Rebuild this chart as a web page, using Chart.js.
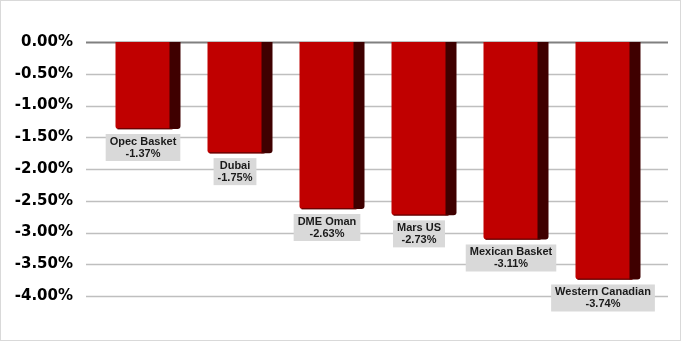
<!DOCTYPE html>
<html>
<head>
<meta charset="utf-8">
<script src="https://cdn.jsdelivr.net/npm/chart.js@4/dist/chart.umd.min.js"></script>
<style>
    body { margin: 0; background: #ffffff; }
    canvas { display: block; }
</style>
</head>
<body>
<canvas id="grafico" width="681" height="341"></canvas>
<script>
// datos del grafico
var categorias = ['Opec Basket', 'Dubai', 'DME Oman', 'Mars US', 'Mexican Basket', 'Western Canadian'];
var variaciones = [-1.37, -1.75, -2.63, -2.73, -3.11, -3.74];
var ejeMin = -4;
var ejeMax = 0;
var ejePaso = 0.5;

function formatoPorcentaje(v) {
    return v.toFixed(2) + '%';
}

// lineas de la grilla, fuera del area para que lleguen a los bordes
var pluginGrilla = {
    id: 'grilla',
    beforeDatasetsDraw: function (chart) {
        var ctx = chart.ctx;
        var y = chart.scales.y;
        ctx.save();
        y.ticks.forEach(function (t) {
            var py = Math.round(y.getPixelForValue(t.value)) + 0.5;
            ctx.beginPath();
            ctx.moveTo(86, py);
            ctx.lineTo(668, py);
            ctx.lineWidth = t.value === 0 ? 2 : 1.5;
            ctx.strokeStyle = t.value === 0 ? '#808080' : '#bfbfbf';
            ctx.stroke();
        });
        ctx.restore();
    }
};

// lado oscuro de cada barra y etiquetas grises
var pluginBarras = {
    id: 'barras3d',
    afterDatasetsDraw: function (chart) {
        var ctx = chart.ctx;
        var meta = chart.getDatasetMeta(0);
        ctx.save();
        meta.data.forEach(function (barra, i) {
            var derecha = barra.x + barra.width / 2;
            var arriba = barra.base;
            var abajo = barra.y;
            // lado
            ctx.fillStyle = '#3f0000';
            ctx.beginPath();
            ctx.moveTo(derecha - 1, arriba);
            ctx.lineTo(derecha + 10, arriba);
            ctx.lineTo(derecha + 10, abajo - 3);
            ctx.quadraticCurveTo(derecha + 10, abajo, derecha + 7, abajo);
            ctx.lineTo(derecha - 1, abajo);
            ctx.closePath();
            ctx.fill();
            // sombra inferior
            ctx.fillStyle = 'rgba(90,0,0,0.8)';
            ctx.fillRect(barra.x - barra.width / 2 + 2, abajo - 1, barra.width, 1.5);

            // etiqueta
            ctx.font = 'bold 11px "Liberation Sans", Arial, sans-serif';
            var linea1 = categorias[i];
            var linea2 = formatoPorcentaje(variaciones[i]);
            var ancho = Math.max(ctx.measureText(linea1).width, ctx.measureText(linea2).width) + 8;
            var alto = 27;
            var top = abajo + 5;
            ctx.fillStyle = '#d9d9d9';
            ctx.fillRect(barra.x - ancho / 2, top, ancho, alto);
            ctx.fillStyle = '#1a1a1a';
            ctx.textAlign = 'center';
            ctx.textBaseline = 'middle';
            ctx.fillText(linea1, barra.x, top + 7.5);
            ctx.fillText(linea2, barra.x, top + 19.5);
        });
        ctx.restore();
    },
    afterDraw: function (chart) {
        var ctx = chart.ctx;
        ctx.save();
        ctx.strokeStyle = '#d9d9d9';
        ctx.lineWidth = 1;
        ctx.strokeRect(0.5, 0.5, chart.width - 1, chart.height - 1);
        ctx.restore();
    }
};

var ctx = document.getElementById('grafico').getContext('2d');
var miGrafico = new Chart(ctx, {
    type: 'bar',
    data: {
        labels: categorias,
        datasets: [{
            data: variaciones,
            backgroundColor: '#c00000',
            borderWidth: 0,
            borderRadius: { bottomLeft: 3, bottomRight: 0, topLeft: 0, topRight: 0 },
            borderSkipped: false,
            barPercentage: 55 / 92,
            categoryPercentage: 1
        }]
    },
    options: {
        responsive: false,
        animation: false,
        devicePixelRatio: 1,
        layout: {
            padding: { top: 42, bottom: 45, left: 0, right: 32 }
        },
        plugins: {
            legend: { display: false },
            tooltip: { enabled: false }
        },
        scales: {
            x: {
                display: false
            },
            y: {
                min: ejeMin,
                max: ejeMax,
                afterFit: function (scale) {
                    scale.width = 97;
                },
                border: { display: false },
                grid: { display: false, drawTicks: false },
                ticks: {
                    stepSize: ejePaso,
                    padding: 24,
                    color: '#000000',
                    font: { family: '"DejaVu Sans", Verdana, sans-serif', size: 15, weight: 'bold' },
                    callback: function (v) {
                        return formatoPorcentaje(v);
                    }
                }
            }
        }
    },
    plugins: [pluginGrilla, pluginBarras]
});
</script>
</body>
</html>
